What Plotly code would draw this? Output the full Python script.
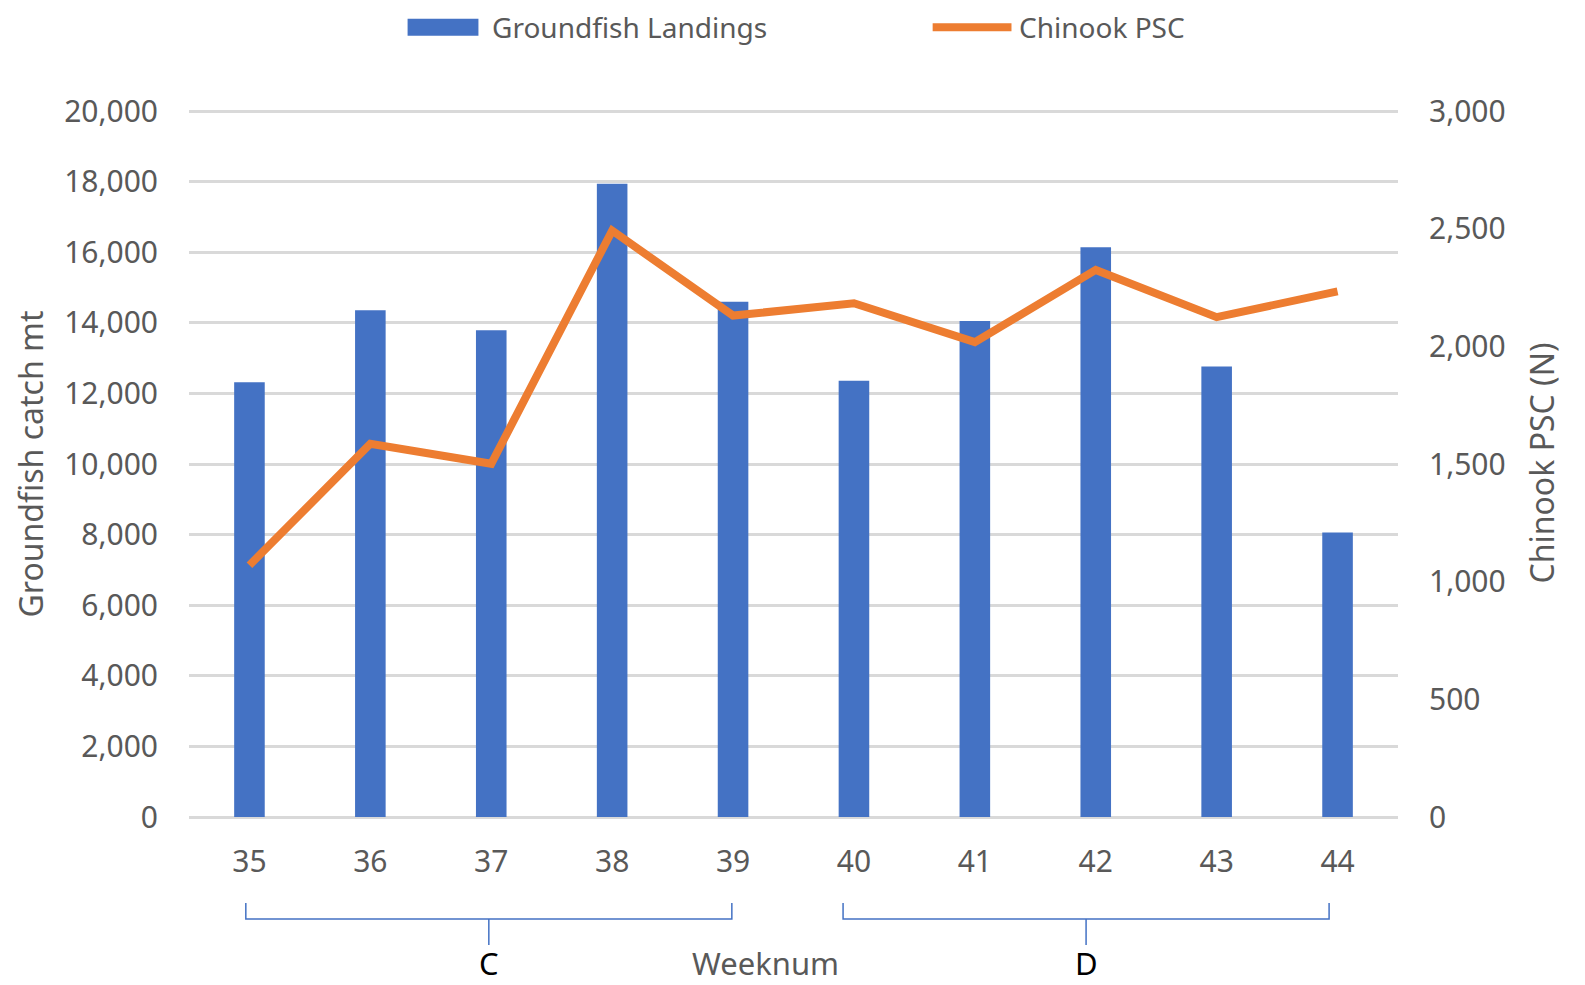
import plotly.graph_objects as go

# week numbers on the x axis
weeks = [35, 36, 37, 38, 39, 40, 41, 42, 43, 44]

# groundfish landings (mt), left axis
landings = [12320, 14360, 13790, 17940, 14600, 12360, 14050, 16140, 12760, 8060]

# chinook prohibited species catch (numbers), right axis
chinook = [1070, 1586, 1501, 2492, 2131, 2183, 2018, 2325, 2124, 2234]

# season groups shown with brackets under the x axis
groups = ["C", "D"]
group_start = [35, 40]
group_end = [39, 44]

BLUE = "#4472C4"
ORANGE = "#ED7D31"
GREY = "#595959"
FONT = "Noto Sans"


def note(x, y, text, size, color=GREY, xref="paper", angle=0, xanchor="center"):
    fig.add_annotation(x=x, y=y, xref=xref, yref="paper", text=text, textangle=angle,
                       showarrow=False, xanchor=xanchor, yanchor="middle",
                       font=dict(family=FONT, size=size, color=color))


fig = go.Figure()

fig.add_trace(go.Bar(
    x=weeks,
    y=landings,
    name="Groundfish Landings",
    marker=dict(color=BLUE, line=dict(width=0)),
    yaxis="y",
    showlegend=False,
))

fig.add_trace(go.Scatter(
    x=weeks,
    y=chinook,
    name="Chinook PSC",
    mode="lines",
    line=dict(color=ORANGE, width=8),
    yaxis="y2",
    showlegend=False,
))

# legend drawn by hand so the swatches are wide like the original
leg_y = 1.117
fig.add_shape(type="rect", xref="paper", yref="paper",
              x0=0.1808, x1=0.2394, y0=leg_y - 0.012, y1=leg_y + 0.012,
              fillcolor=BLUE, line=dict(width=0))
note(0.2486, leg_y, "Groundfish Landings", 28, xanchor="left")
fig.add_shape(type="line", xref="paper", yref="paper",
              x0=0.6151, x1=0.6803, y0=leg_y, y1=leg_y,
              line=dict(color=ORANGE, width=8))
note(0.6849, leg_y, "Chinook PSC", 28, xanchor="left")

# brackets under the axis (paper y, data x)
y_top, y_mid, y_low = -0.1216, -0.1443, -0.181
shift = {"C": (-0.03, -0.01), "D": (-0.09, -0.07)}
for label, x0, x1 in zip(groups, group_start, group_end):
    xl, xr = x0 + shift[label][0], x1 + shift[label][1]
    xc = (xl + xr) / 2
    path = (f"M {xl},{y_top} L {xl},{y_mid} L {xr},{y_mid} L {xr},{y_top} "
            f"M {xc},{y_mid} L {xc},{y_low}")
    fig.add_shape(type="path", path=path, xref="x", yref="paper",
                  line=dict(color=BLUE, width=1.5))
    note(xc, -0.207, label, 31, color="black", xref="x")

note(0.4766, -0.207, "Weeknum", 31)
note(-0.1307, 0.5, "Groundfish catch mt", 32, angle=-90)
note(1.1183, 0.5, "Chinook PSC (N)", 32, angle=-90)

fig.update_layout(
    width=1577,
    height=977,
    margin=dict(l=181, r=187, t=102, b=168, autoexpand=False),
    plot_bgcolor="white",
    paper_bgcolor="white",
    font=dict(family=FONT, size=30, color=GREY),
    bargap=0.747,
    xaxis=dict(
        range=[34.5, 44.5],
        tickmode="array",
        tickvals=weeks,
        ticktext=[str(w) for w in weeks],
        showgrid=False,
        zeroline=False,
        showline=False,
        ticks="",
        ticklabelstandoff=24,
        tickfont=dict(family=FONT, size=30, color=GREY),
    ),
    yaxis=dict(
        range=[0, 20030],
        tickmode="array",
        tickvals=list(range(0, 20001, 2000)),
        tickformat=",d",
        showgrid=True,
        gridcolor="#D9D9D9",
        gridwidth=2.5,
        zeroline=True,
        zerolinecolor="#D9D9D9",
        zerolinewidth=2.5,
        showline=False,
        ticks="",
        ticklabelstandoff=30,
        tickfont=dict(family=FONT, size=30, color=GREY),
    ),
    yaxis2=dict(
        range=[0, 3004.5],
        tickmode="array",
        tickvals=list(range(0, 3001, 500)),
        tickformat=",d",
        overlaying="y",
        side="right",
        showgrid=False,
        zeroline=False,
        showline=False,
        ticks="",
        ticklabelstandoff=30,
        tickfont=dict(family=FONT, size=30, color=GREY),
    ),
)

fig.write_html("out.html")
